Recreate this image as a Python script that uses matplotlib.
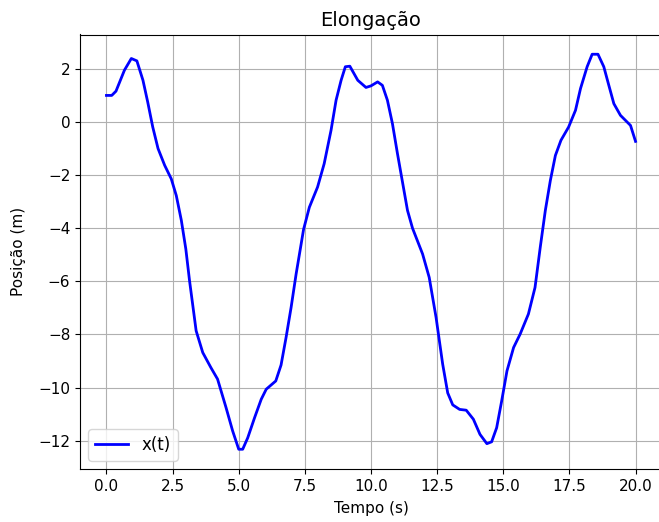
import matplotlib
matplotlib.use("Agg")
import matplotlib.pyplot as plt

# Sampled elongation x(t)
tempo = [0.0, 0.2, 0.36, 0.68, 0.94, 1.15, 1.38, 1.56, 1.75, 1.95, 2.2, 2.45,
         2.64, 2.83, 3.0, 3.14, 3.39, 3.64, 3.95, 4.2, 4.52, 4.77, 5.0, 5.15,
         5.34, 5.6, 5.85, 6.04, 6.4, 6.6, 6.79, 6.98, 7.17, 7.36, 7.45, 7.67,
         7.98, 8.23, 8.49, 8.68, 8.87, 9.03, 9.2, 9.5, 9.81, 10.0, 10.25, 10.43,
         10.62, 10.81, 11.0, 11.19, 11.38, 11.57, 11.95, 12.2, 12.46, 12.71,
         12.9, 13.09, 13.35, 13.6, 13.87, 14.12, 14.38, 14.56, 14.75, 14.94,
         15.14, 15.39, 15.64, 15.95, 16.2, 16.4, 16.59, 16.78, 16.97, 17.18,
         17.47, 17.73, 17.92, 18.17, 18.36, 18.58, 18.8, 18.99, 19.18, 19.43,
         19.81, 20.0]
posicao = [1.0, 1.0, 1.16, 1.95, 2.39, 2.3, 1.57, 0.75, -0.19, -1.0, -1.63, -2.14,
           -2.77, -3.7, -4.78, -5.97, -7.86, -8.68, -9.25, -9.68, -10.75, -11.63, -12.32, -12.32,
           -11.89, -11.13, -10.44, -10.06, -9.75, -9.15, -8.11, -6.98, -5.72, -4.59, -4.05, -3.21,
           -2.45, -1.57, -0.31, 0.82, 1.57, 2.08, 2.1, 1.57, 1.3, 1.36, 1.51, 1.38,
           0.82, -0.06, -1.19, -2.26, -3.33, -4.0, -4.97, -5.85, -7.36, -9.12,
           -10.2, -10.65, -10.82, -10.85, -11.19, -11.76, -12.11, -12.04, -11.51, -10.5,
           -9.37, -8.49, -7.98, -7.23, -6.23, -4.7, -3.33, -2.2, -1.26, -0.69,
           -0.19, 0.44, 1.26, 2.08, 2.55, 2.55, 2.08, 1.38, 0.69, 0.25,
           -0.13, -0.73]

W, H = 659, 522
fig = plt.figure(figsize=(W / 100, H / 100), dpi=100)
# axes box in pixels: left 80, top 34.5, width 582, height 434.5
ax = fig.add_axes([80 / W, 1 - 469 / H, 582 / W, 434.5 / H])
ax.plot(tempo, posicao, color="b", linewidth=2, label="x(t)")
ax.set_title("Elongação", fontsize=14)
ax.set_xlabel("Tempo (s)", fontsize=11, labelpad=5)
ax.set_ylabel("Posição (m)", fontsize=11, labelpad=9)
ax.tick_params(labelsize=11)
ax.grid(True)
ax.legend(loc="lower left", fontsize=12)
fig.savefig("out.png", dpi=100)
